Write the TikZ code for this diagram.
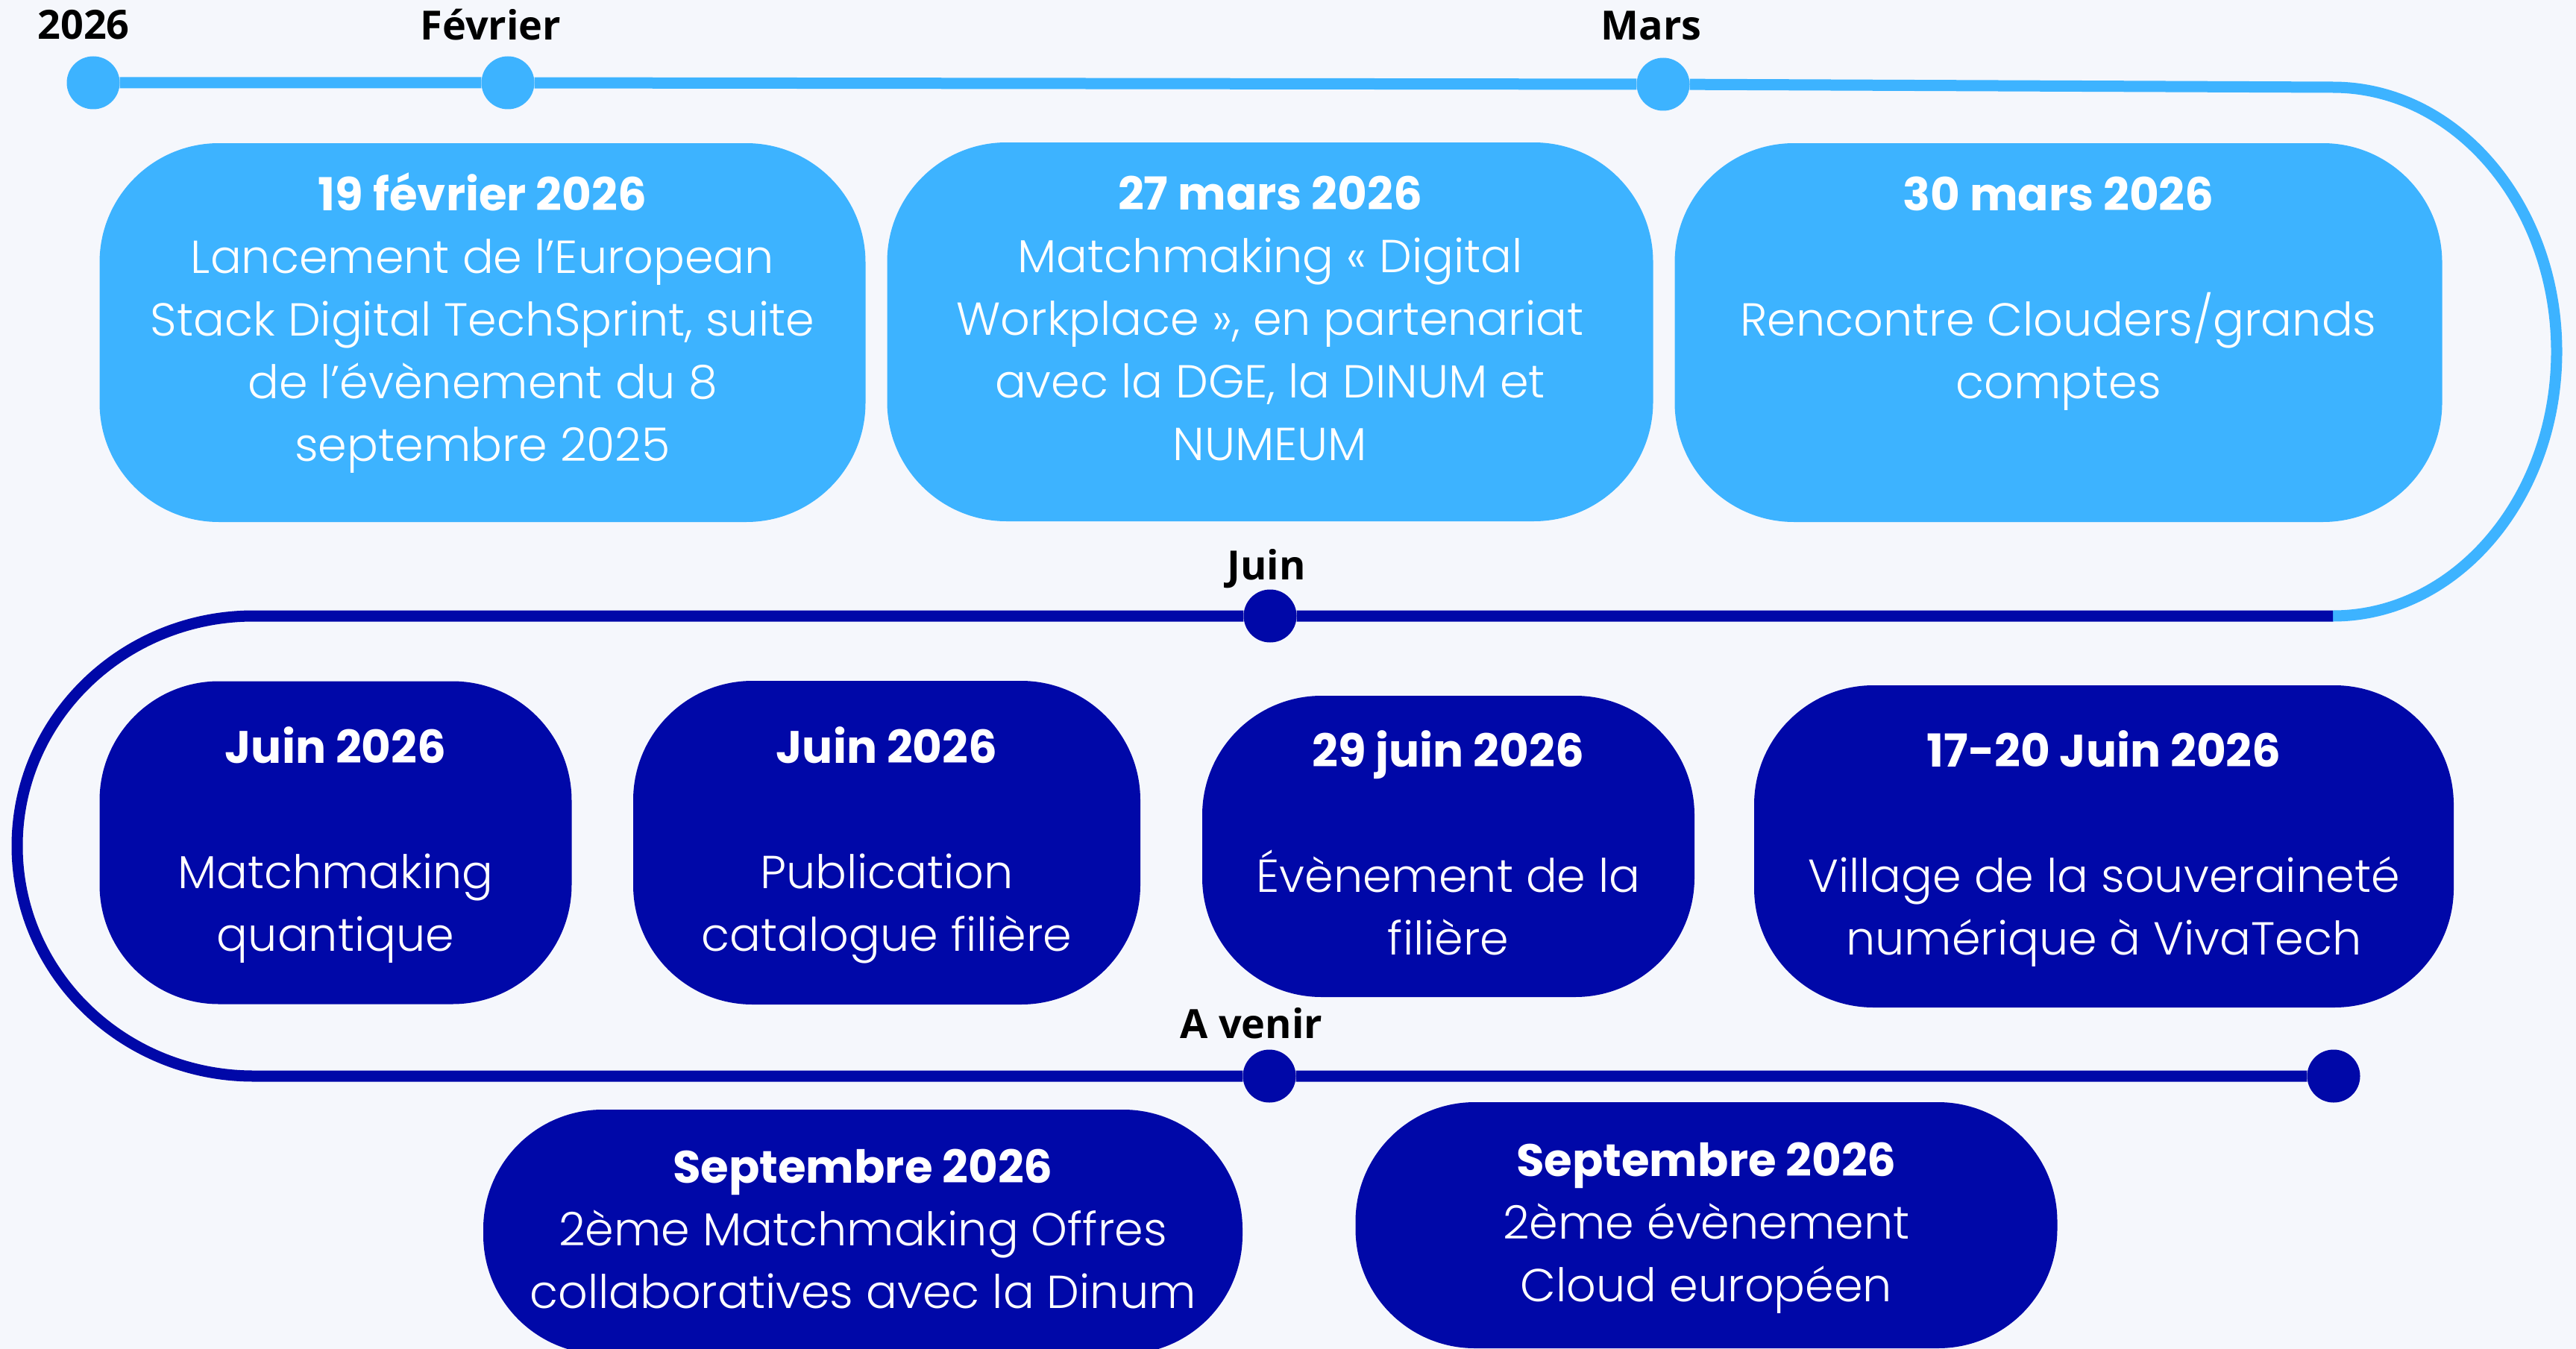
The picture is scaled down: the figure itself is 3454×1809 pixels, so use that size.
\documentclass[tikz,border=0pt]{standalone}
\usepackage{fontspec}
\setmainfont{Poppins}
\newfontfamily\evlightfont{Poppins Light}
\newfontfamily\monthfont{Open Sans}
\definecolor{skyblue}{RGB}{61,179,255}
\definecolor{navyblue}{RGB}{0,8,168}
\definecolor{paper}{RGB}{245,247,252}
\newcommand{\evdate}[1]{{\normalfont\bfseries\fontsize{61}{84}\selectfont #1}}
\tikzset{
  tdot/.style={circle, minimum size=71pt, inner sep=0pt},
  month/.style={anchor=base, text=black, font=\monthfont\bfseries\fontsize{54}{60}\selectfont},
  event/.style={rounded corners=160pt, text=white, align=center, inner sep=0pt,
    text depth=0pt, font=\evlightfont\fontsize{62}{84}\selectfont},
  evtop/.style={event, fill=skyblue, minimum height=508pt, text height=344pt},
  evmid/.style={event, fill=navyblue, text height=290pt},
  evlow/.style={event, fill=navyblue, text height=204pt},
}
\begin{document}
\begin{tikzpicture}[x=1pt, y=-1pt]
  \useasboundingbox (0,0) rectangle (3454,1809);
  \fill[paper] (0,0) rectangle (3454,1809);
  % timeline dots
  \draw
    (125,111) node[tdot, fill=skyblue] (d2026) {}
    (681,111) node[tdot, fill=skyblue] (dfev) {}
    (2230,113) node[tdot, fill=skyblue] (dmars) {}
    (1703,826) node[tdot, fill=navyblue] (djuin) {}
    (1702,1443) node[tdot, fill=navyblue] (davenir) {}
    (3129,1443) node[tdot, fill=navyblue] (dfin) {};
  \coordinate (tr) at (3128,117);
  \coordinate (rb) at (3128,826);
  \coordinate (ltop) at (340,826);
  \begin{scope}[line width=15pt]
    \draw[skyblue] (d2026) -- (dfev) -- (dmars) -- (tr)
      arc[start angle=-90, end angle=90, x radius=300, y radius=354.5];
    \draw[navyblue] (rb) -- (djuin) -- (ltop)
      arc[start angle=270, end angle=90, x radius=317, y radius=308.5]
      -- (davenir) -- (dfin);
  \end{scope}
  % month labels
  \node[month] (l2026) at (112,53) {2026};
  \node[month] (lfev) at (658,54) {Février};
  \node[month] (lmars) at (2214,54) {Mars};
  \node[month] (ljuin) at (1698,777) {Juin};
  \node[month] (lavenir) at (1678,1392) {A venir};
  % events
  \node[evtop, minimum width=1027pt] (ev1) at (647,446)
    {\evdate{19 février 2026}\\ Lancement de l’European\\ Stack Digital TechSprint, suite\\ de l’évènement du 8\\ septembre 2025};
  \node[evtop, minimum width=1027pt] (ev2) at (1703,445)
    {\evdate{27 mars 2026}\\ Matchmaking « Digital\\ Workplace », en partenariat\\ avec la DGE, la DINUM et\\ NUMEUM};
  \node[evtop, minimum width=1029pt, text height=176pt] (ev3) at (2760,446)
    {\evdate{30 mars 2026}\\[84pt] Rencontre Clouders/grands\\ comptes};
  \node[evmid, minimum width=633pt, minimum height=433pt] (ev4) at (450,1130)
    {\evdate{Juin 2026}\\[84pt] Matchmaking\\ quantique};
  \node[evmid, minimum width=680pt, minimum height=434pt] (ev5) at (1189,1130)
    {\evdate{Juin 2026}\\[84pt] Publication\\ catalogue filière};
  \node[evmid, minimum width=660pt, minimum height=404pt] (ev6) at (1942,1135)
    {\evdate{29 juin 2026}\\[84pt] Évènement de la\\ filière};
  \node[evmid, minimum width=938pt, minimum height=432pt] (ev7) at (2821,1135)
    {\evdate{17-20 Juin 2026}\\[84pt] Village de la souveraineté\\ numérique à VivaTech};
  \node[evlow, minimum width=1018pt, minimum height=328pt] (ev8) at (1157,1652)
    {\evdate{Septembre 2026}\\ 2ème Matchmaking Offres\\ collaboratives avec la Dinum};
  \node[evlow, minimum width=941pt, minimum height=330pt] (ev9) at (2288,1643)
    {\evdate{Septembre 2026}\\ 2ème évènement\\ Cloud européen};
\end{tikzpicture}
\end{document}
